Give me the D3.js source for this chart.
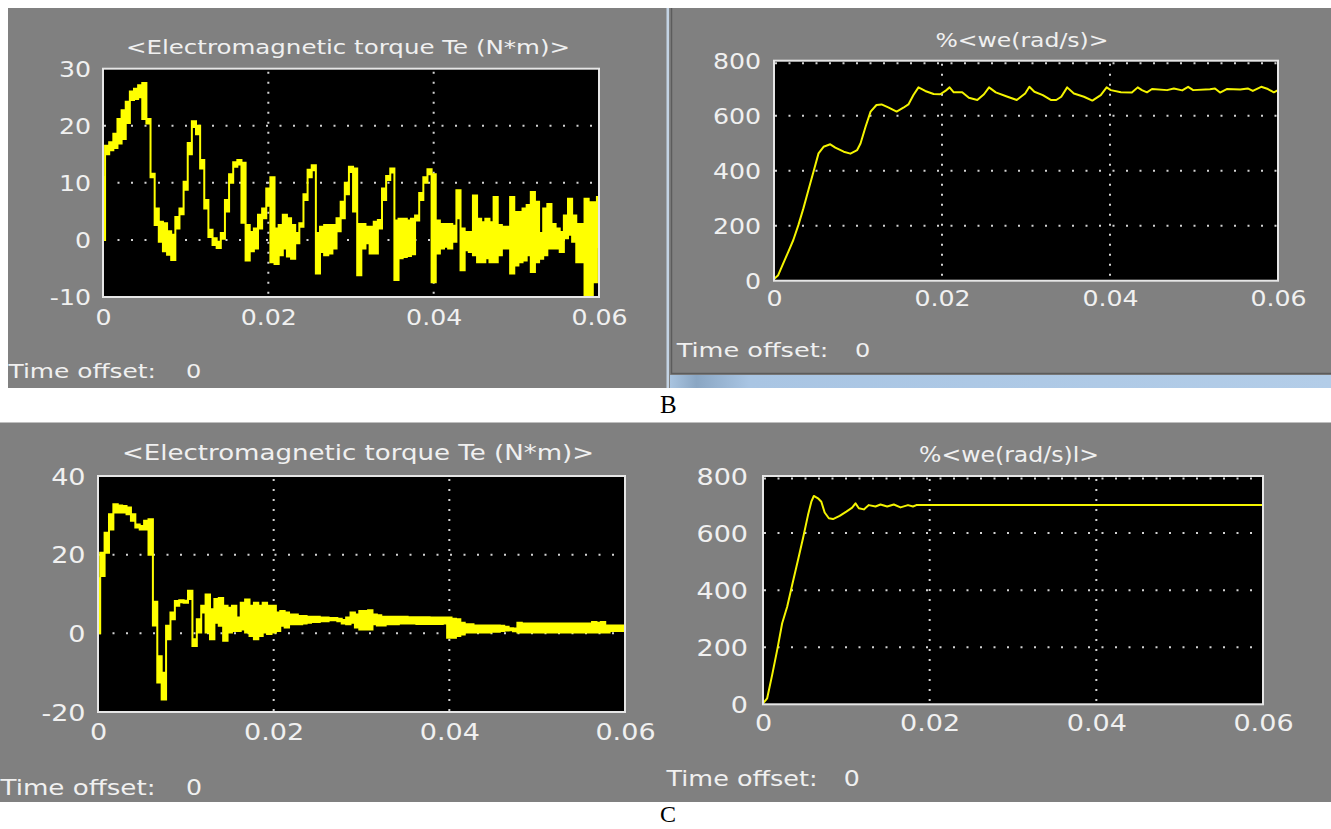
<!DOCTYPE html>
<html>
<head>
<meta charset="utf-8" />
<title>Scope traces B and C</title>
<script src="https://d3js.org/d3.v7.min.js"></script>
<style>
  html, body { margin: 0; padding: 0; background: #fff; }
  svg { display: block; }
</style>
</head>
<body>
<svg id="chart" width="1331" height="829"></svg>
<script>

// ---- values ----
const timeTicks = [0, 0.02, 0.04, 0.06]
const timeTickLabels = ["0", "0.02", "0.04", "0.06"]
const torqueTicksB = [-10, 0, 10, 20, 30]
const torqueTicksC = [-20, 0, 20, 40]
const speedTicks = [0, 200, 400, 600, 800]

const titleTorque = "<Electromagnetic torque Te (N*m)>"
const titleSpeedB = "%<we(rad/s)>"
const titleSpeedC = "%<we(rad/s)l>"
const offsetText = "Time offset:"
const offsetValue = "0"
const figLabels = ["B", "C"]

// torque traces: sampled every 0.5 ms, upper and lower edge of the trace
const sampleTimeMs = [
  0, 0.5, 1, 1.5, 2, 2.5, 3, 3.5, 4, 4.5, 5, 5.5, 6, 6.5, 7, 7.5, 8, 8.5, 9, 9.5,
  10, 10.5, 11, 11.5, 12, 12.5, 13, 13.5, 14, 14.5, 15, 15.5, 16, 16.5, 17, 17.5, 18, 18.5, 19, 19.5,
  20, 20.5, 21, 21.5, 22, 22.5, 23, 23.5, 24, 24.5, 25, 25.5, 26, 26.5, 27, 27.5, 28, 28.5, 29, 29.5,
  30, 30.5, 31, 31.5, 32, 32.5, 33, 33.5, 34, 34.5, 35, 35.5, 36, 36.5, 37, 37.5, 38, 38.5, 39, 39.5,
  40, 40.5, 41, 41.5, 42, 42.5, 43, 43.5, 44, 44.5, 45, 45.5, 46, 46.5, 47, 47.5, 48, 48.5, 49, 49.5,
  50, 50.5, 51, 51.5, 52, 52.5, 53, 53.5, 54, 54.5, 55, 55.5, 56, 56.5, 57, 57.5, 58, 58.5, 59, 59.5,
  60
]

const torqueBHi = [
  11, 16.5, 17.1, 18.6, 21.2, 22.7, 24.2, 26, 26.5, 27.1,
  27.5, 21.2, 11.6, 5.5, 3.2, 2.9, 1.5, 0.9, 4, 5.5,
  10.2, 17, 20.8, 20, 14, 7, 1.8, 0.3, -0.3, 1.2,
  7, 11.5, 13.6, 14, 13.5, 2.6, 1.4, 2, 4.4, 5.5,
  9, 11, 2, 2.6, 4.4, 3.8, 2.6, 1.2, 2.9, 8,
  12.3, 13.1, 1.2, 2.3, 2.6, 2.6, 2.6, 3.8, 6.7, 10,
  12.8, 12.5, 2.8, 2.8, 2.3, 2.3, 3.2, 3.5, 9, 11.2,
  12.5, 3.4, 3.7, 3.7, 3.4, 3.7, 4.3, 8.2, 11, 12.4,
  11.5, 3.4, 2.8, 2.8, 2.8, 2.5, 8.7, 2, 1.4, 1.4,
  7.8, 3.7, 3.1, 3.7, 3.1, 7.5, 2.6, 2.3, 2.3, 7.5,
  4.9, 4.9, 5.5, 6.1, 8.4, 6.7, 1.2, 5.5, 6.3, 2.8,
  2, 1.4, 4.3, 7.2, 4.3, 2.8, 2.8, 7.2, 6.6, 6.6,
  7.5
]
const torqueBLo = [
  0, 15, 15.7, 16.1, 16.9, 17.7, 20.5, 24.5, 24.7, 25,
  21.2, 20.4, 11, 2.6, -0.3, -2, -2.6, -3.5, 2, 4.5,
  8.8, 15, 19.8, 18.5, 12.5, 5.5, 0.5, -0.9, -1.4, 0.2,
  5, 10, 12.8, 13.2, 3, -3.6, -2, -1.5, 2, 3.8,
  6, -3.9, -4.2, -2.7, -1.5, -2.9, -3.3, -0.6, 2.3, 7,
  11, 12.2, -5.9, -2.1, -2.7, -2.4, -1.5, 1.5, 3.8, 8,
  11.9, 5, -6.2, -1.5, -0.6, -2.4, -2.4, 2, 7, 10.5,
  11.8, -7, -3.2, -3, -2.8, -2.5, 3.4, 7, 10, 11.5,
  -7.4, -2.4, -1.5, -1.2, -1.5, -0.3, 3.8, -5.3, -1.8, -2.1,
  -2.7, -3.9, -3.9, -3.2, -3.9, -3.9, -2.7, -1.5, -1.5, -5.9,
  -4.5, -3.9, -3.6, -2.7, -5.6, -3.9, -3.3, -2.7, -1.5, -1.5,
  -1.5, -2.1, 0.3, 0.9, -0.3, -3.9, -3.9, -9.7, -9.7, -7.4,
  -1.2
]

const torqueCHi = [
  14, 20.5, 25.6, 30.3, 32.8, 32.5, 32.4, 32, 30.3, 27.7,
  27.3, 28.6, 29, 8, -5.8, -10, 1.9, 5.3, 8.2, 8.4,
  8.3, 10.8, -1.5, 3.6, 7, 9.9, 6.1, 8.7, 9, 7,
  6.5, 7, 4, 7.8, 8.6, 7, 7.8, 7, 7.8, 7,
  7, 5.3, 5.7, 5.3, 4.8, 4.8, 4.4, 4.4, 4.2, 4.2,
  4.2, 4, 4, 3.9, 3.9, 3.7, 3.4, 4, 5.3, 4.8,
  5.7, 5.7, 5.9, 4.8, 4.6, 4.2, 4.2, 4.2, 4.2, 4.2,
  4.2, 4.1, 4.1, 4.1, 4.1, 4.1, 4, 4, 4, 4,
  4, 3.7, 3.6, 2.7, 2.3, 2.3, 2, 2, 2, 2,
  2, 2, 1.9, 1.7, 1.3, 1.2, 2.7, 2.5, 2.5, 2.5,
  2.5, 2.5, 2.5, 2.5, 2.5, 2.5, 2.5, 2.5, 2.5, 2.5,
  2.5, 2.5, 2.5, 2.9, 2.7, 2.9, 2, 2, 2, 2,
  2
]
const torqueCLo = [
  0, 14.6, 20.5, 26.4, 30.7, 30.7, 30.7, 30.3, 28.6, 26.9,
  26.4, 26.4, 20, 2, -12.5, -16.8, -1.5, 3.6, 7, 7.9,
  7.8, 8.7, -3.2, 0.2, 5.3, 0.2, -1.5, 2.7, 1.9, -1.9,
  0.2, 0.6, 0.6, 1, 0.2, -0.7, -1.5, -0.7, 0.2, -0.2,
  0.2, 0.6, 1.9, 1.5, 2.3, 2.3, 2.3, 2.5, 2.7, 2.9,
  2.9, 3.1, 3.1, 3.3, 3.3, 3.1, 2.5, 2.3, 2.7, 1.5,
  1, 1, 1, 2.3, 2, 2, 2.3, 2.3, 2.3, 2.5,
  2.5, 2.5, 2.5, 2.4, 2.4, 2.4, 2.4, 2.4, 2.4, 2.5,
  -1.1, -1.1, -0.7, -0.3, 0.2, 0.2, 0.2, 0.2, 0.2, 0.2,
  0.4, 0.4, 0.6, 0.7, 0.8, 0.5, 0.2, 0.2, 0.2, 0.2,
  0.2, 0.2, 0.2, 0.2, 0.2, 0.2, 0.2, 0.2, 0.2, 0.2,
  0.2, 0.2, 0.2, 0.2, 0.2, 0.2, 0.2, 0.6, 0.6, 0.6,
  0.6
]

// speed traces (ms, rad/s)
const speedBTimeMs = [
  0, 0.5, 1.1, 1.7, 2.3, 2.9, 3.5, 4.1, 4.7, 5.3, 5.9, 6.7, 7.3, 8.3, 9.1, 9.9, 10.3, 10.9, 11.5, 12.2,
  12.8, 13.6, 14.6, 15.4, 16, 16.6, 17.2, 18, 19, 19.8, 20.4, 20.9, 21.4, 22.4, 23.2, 24.2, 25, 25.6, 26.4, 27.8,
  28.9, 29.9, 30.4, 31, 32, 33, 33.6, 34.2, 34.9, 35.7, 36.9, 37.9, 38.9, 39.6, 40.1, 41.3, 42.6, 43.3, 43.8, 44.4,
  45, 46.8, 47.6, 48.6, 49.3, 49.9, 51.9, 52.5, 53.1, 53.9, 55.5, 56.4, 57, 58, 58.8, 59.5, 60
]
const speedBValue = [
  6, 20, 63, 105, 148, 202, 263, 330, 396, 463, 487, 496, 484, 469, 462, 475, 499, 560, 615, 639,
  641, 630, 615, 629, 641, 675, 703, 690, 679, 678, 690, 703, 685, 685, 665, 657, 678, 703, 685, 669,
  657, 681, 705, 687, 675, 657, 657, 669, 703, 681, 669, 655, 675, 703, 693, 685, 684, 703, 693, 685,
  697, 693, 699, 692, 705, 693, 696, 699, 684, 697, 695, 699, 690, 705, 697, 685, 693
]
const speedCTimeMs = [
  0, 0.5, 1.1, 1.7, 2.3, 2.9, 3.5, 4.2, 4.8, 5.4, 5.8, 6.1, 6.6, 7, 7.4, 7.9, 8.4, 9.2, 10, 10.7,
  11.1, 11.5, 12.1, 12.7, 13.5, 14.1, 14.9, 15.7, 16.5, 17.4, 18, 18.4, 60
]
const speedCValue = [
  3, 21, 103, 190, 284, 342, 418, 506, 582, 663, 710, 730, 722, 710, 672, 652, 649, 660, 675, 689,
  704, 687, 683, 698, 693, 700, 693, 700, 690, 698, 693, 698, 698
]

// ---- layout ----
const GREY = "#808080"
const TEXT = "#f0f0f0"
const TRACE = "#ffff00"
const FONT = "'DejaVu Sans', Verdana, sans-serif"
const STRETCH = 1.2

const panels = [
  { id: "bt", x0: 103, x1: 599, y0: 68.7, y1: 297, domain: [-10, 30], ticks: torqueTicksB,
    title: titleTorque, titleCx: 348, titleBase: 53.5, titleW: 444, titleFs: 20, tickFs: 21,
    xLabelBase: 325, yLabelRight: 91, offX: 8.5, offBase: 378, offW: 147.5, zeroX: 186, offFs: 20,
    topGrid: false, hi: torqueBHi, lo: torqueBLo },
  { id: "bs", x0: 774, x1: 1278, y0: 60.7, y1: 280.7, domain: [0, 800], ticks: speedTicks,
    title: titleSpeedB, titleCx: 1022, titleBase: 47, titleW: 173, titleFs: 20, tickFs: 21,
    xLabelBase: 306, yLabelRight: 761, offX: 676.7, offBase: 357.3, offW: 151.6, zeroX: 855, offFs: 20,
    topGrid: true, t: speedBTimeMs, v: speedBValue },
  { id: "ct", x0: 98, x1: 625, y0: 476, y1: 712, domain: [-20, 40], ticks: torqueTicksC,
    title: titleTorque, titleCx: 358, titleBase: 459.5, titleW: 472, titleFs: 20.5, tickFs: 22.5,
    xLabelBase: 740, yLabelRight: 85.5, offX: 0.5, offBase: 795, offW: 155, zeroX: 186, offFs: 21,
    topGrid: false, hi: torqueCHi, lo: torqueCLo },
  { id: "cs", x0: 763, x1: 1263, y0: 476, y1: 704.3, domain: [0, 800], ticks: speedTicks,
    title: titleSpeedC, titleCx: 1009, titleBase: 461.5, titleW: 180, titleFs: 20.5, tickFs: 22.5,
    xLabelBase: 731, yLabelRight: 748, offX: 666.5, offBase: 785.7, offW: 151, zeroX: 843.7, offFs: 21,
    topGrid: true, t: speedCTimeMs, v: speedCValue }
]

const svg = d3.select("#chart")
const defs = svg.append("defs")

// window task-bar gradient under the upper right scope
const bar = defs.append("linearGradient").attr("id", "bar")
bar.append("stop").attr("offset", 0).attr("stop-color", "#a9c4e0")
bar.append("stop").attr("offset", 0.04).attr("stop-color", "#8aa6c3")
bar.append("stop").attr("offset", 0.12).attr("stop-color", "#a9c5e3")
bar.append("stop").attr("offset", 1).attr("stop-color", "#b3cde8")

// grey scope backgrounds
svg.append("rect").attr("x", 8).attr("y", 8).attr("width", 660).attr("height", 380).attr("fill", GREY)
svg.append("rect").attr("x", 668).attr("y", 8).attr("width", 663).attr("height", 380).attr("fill", GREY)
svg.append("rect").attr("x", 670).attr("y", 375).attr("width", 661).attr("height", 13).attr("fill", "url(#bar)")
svg.append("rect").attr("x", 666.5).attr("y", 8).attr("width", 2.5).attr("height", 380).attr("fill", "#c3d3e4")
svg.append("path").attr("d", "M671.5,8V373.5H1331").attr("fill", "none")
  .attr("stroke", "#5c5c5c").attr("stroke-width", 1.5)
svg.append("rect").attr("x", 0).attr("y", 422.5).attr("width", 1331).attr("height", 379.5).attr("fill", GREY)

svg.selectAll("text.fig")
  .data(figLabels)
  .join("text")
  .attr("class", "fig")
  .attr("x", 660)
  .attr("y", (d, i) => i === 0 ? 413 : 822)
  .style("font-family", "'Liberation Serif', 'Times New Roman', serif")
  .style("font-size", (d, i) => i === 0 ? "25px" : "24px")
  .attr("fill", "#000")
  .text(d => d)

function stretch(sel, factor) {
  sel.each(function () {
    const w = this.getComputedTextLength()
    d3.select(this).attr("textLength", w * factor).attr("lengthAdjust", "spacingAndGlyphs")
  })
}

function fitText(g, str, x, y, fs, width, anchor) {
  return g.append("text")
    .attr("x", x).attr("y", y)
    .attr("text-anchor", anchor)
    .attr("textLength", width).attr("lengthAdjust", "spacingAndGlyphs")
    .attr("fill", TEXT)
    .style("font-family", FONT)
    .style("font-size", fs + "px")
    .text(str)
}

function drawPanel(p) {
  const x = d3.scaleLinear().domain([0, 0.06]).range([p.x0, p.x1])
  const y = d3.scaleLinear().domain(p.domain).range([p.y1, p.y0])
  const g = svg.append("g").attr("class", "panel-" + p.id)

  g.append("rect")
    .attr("x", p.x0).attr("y", p.y0)
    .attr("width", p.x1 - p.x0).attr("height", p.y1 - p.y0)
    .attr("fill", "#000")

  // dotted grid
  const inner = p.ticks.filter(v => v > p.domain[0] && v < p.domain[1])
  g.selectAll("line.hgrid")
    .data(inner)
    .join("line")
    .attr("class", "hgrid")
    .attr("x1", p.x0 + 1).attr("x2", p.x1)
    .attr("y1", d => y(d)).attr("y2", d => y(d))
    .attr("stroke", "#d2d2d2").attr("stroke-width", 2)
    .attr("stroke-dasharray", "2 11.5")
  if (p.topGrid) {
    g.append("line")
      .attr("x1", p.x0 + 1).attr("x2", p.x1)
      .attr("y1", y(p.domain[1]) + 2.5).attr("y2", y(p.domain[1]) + 2.5)
      .attr("stroke", "#d2d2d2").attr("stroke-width", 2)
      .attr("stroke-dasharray", "2 11.5")
  }
  g.selectAll("line.vgrid")
    .data(timeTicks.slice(1, -1))
    .join("line")
    .attr("class", "vgrid")
    .attr("x1", d => x(d)).attr("x2", d => x(d))
    .attr("y1", p.y0 + 3).attr("y2", p.y1)
    .attr("stroke", "#d2d2d2").attr("stroke-width", 2)
    .attr("stroke-dasharray", "2 8")

  defs.append("clipPath").attr("id", "clip-" + p.id)
    .append("rect")
    .attr("x", p.x0).attr("y", p.y0)
    .attr("width", p.x1 - p.x0).attr("height", p.y1 - p.y0)
  const dg = g.append("g").attr("clip-path", `url(#clip-${p.id})`)

  if (p.hi) {
    // fast switching ripple: filled between the two edges, held per step
    const rows = p.hi.map((h, i) => ({ t: sampleTimeMs[i] / 1000, hi: h, lo: p.lo[i] }))
    const band = d3.area()
      .curve(d3.curveStep)
      .x(d => x(d.t))
      .y0(d => y(d.lo))
      .y1(d => y(d.hi))
    dg.append("path")
      .datum(rows)
      .attr("d", band)
      .attr("fill", TRACE)
      .attr("stroke", TRACE)
      .attr("stroke-width", 2)
  } else {
    const rows = p.t.map((t, i) => ({ t: t / 1000, v: p.v[i] }))
    const line = d3.line().x(d => x(d.t)).y(d => y(d.v))
    dg.append("path")
      .datum(rows)
      .attr("d", line)
      .attr("fill", "none")
      .attr("stroke", "#f4f400")
      .attr("stroke-width", 2)
      .attr("stroke-linejoin", "round")
  }

  g.append("rect")
    .attr("x", p.x0).attr("y", p.y0)
    .attr("width", p.x1 - p.x0).attr("height", p.y1 - p.y0)
    .attr("fill", "none")
    .attr("stroke", "#e6e6e6").attr("stroke-width", 2)

  // axes, labels only
  const ya = g.append("g")
    .attr("transform", `translate(${p.x0},0)`)
    .call(d3.axisLeft(y).tickValues(p.ticks).tickFormat(d => String(d))
      .tickSize(0).tickPadding(p.x0 - p.yLabelRight))
  ya.select(".domain").remove()
  ya.selectAll("text")
    .attr("dy", "0.36em")
    .attr("fill", TEXT)
    .style("font-family", FONT)
    .style("font-size", p.tickFs + "px")

  const xa = g.append("g")
    .attr("transform", `translate(0,${p.y1})`)
    .call(d3.axisBottom(x).tickValues(timeTicks).tickFormat((d, i) => timeTickLabels[i]).tickSize(0))
  xa.select(".domain").remove()
  xa.selectAll("text")
    .attr("y", p.xLabelBase - p.y1)
    .attr("dy", null)
    .attr("fill", TEXT)
    .style("font-family", FONT)
    .style("font-size", p.tickFs + "px")

  stretch(ya.selectAll("text"), STRETCH)
  stretch(xa.selectAll("text"), STRETCH)

  fitText(g, p.title, p.titleCx, p.titleBase, p.titleFs, p.titleW, "middle")
  fitText(g, offsetText, p.offX, p.offBase, p.offFs, p.offW, "start")
  const z = g.append("text")
    .attr("x", p.zeroX).attr("y", p.offBase)
    .attr("fill", TEXT)
    .style("font-family", FONT)
    .style("font-size", p.offFs + "px")
    .text(offsetValue)
  stretch(z, STRETCH)
}

panels.forEach(drawPanel)

</script>
</body>
</html>
